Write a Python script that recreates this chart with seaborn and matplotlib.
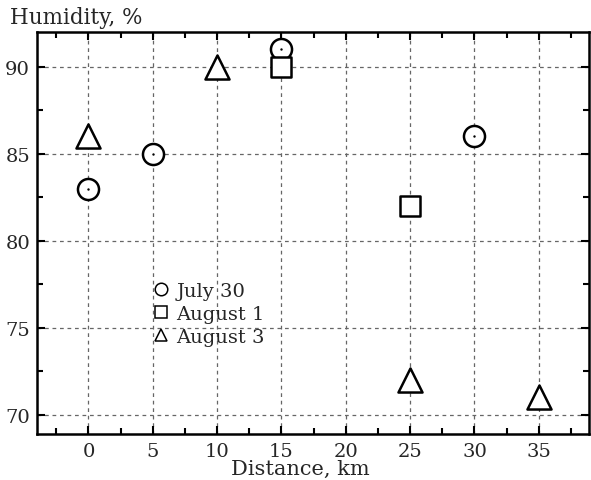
import matplotlib
matplotlib.use("Agg")
import matplotlib.pyplot as plt
import seaborn as sns
import pandas as pd
from matplotlib.ticker import MultipleLocator
from matplotlib.lines import Line2D

july30_x = [0, 5, 15, 30]
july30_y = [83, 85, 91, 86]
aug1_x = [15, 25]
aug1_y = [90, 82]
aug3_x = [0, 10, 25, 35]
aug3_y = [86, 90, 72, 71]
labels = ["July 30", "August 1", "August 3"]

sns.set_style("white")
plt.rcParams['font.family'] = ['DejaVu Serif']
plt.rcParams['mathtext.fontset'] = 'dejavuserif'

fig = plt.figure(figsize=(5.91, 4.81), dpi=100)
ax = fig.add_axes([0.0626, 0.0956, 0.934, 0.8358])

series = [
    (july30_x, july30_y, 'o', labels[0], 230),
    (aug1_x, aug1_y, 's', labels[1], 200),
    (aug3_x, aug3_y, '^', labels[2], 300),
]
for xs, ys, m, lab, s in series:
    df = pd.DataFrame({"Distance": xs, "Humidity": ys})
    sns.scatterplot(data=df, x="Distance", y="Humidity", marker=m, s=s,
                    facecolors='white', edgecolors='black', linewidths=1.8,
                    ax=ax, zorder=3, legend=False)
# center dots for circles
sns.scatterplot(x=july30_x, y=july30_y, marker='o', s=3, color='black',
                linewidth=0, ax=ax, zorder=4, legend=False)

ax.set_xlim(-4, 38.9)
ax.set_ylim(68.9, 92.0)
ax.set_xticks([0, 5, 10, 15, 20, 25, 30, 35])
ax.xaxis.set_minor_locator(MultipleLocator(2.5))
ax.yaxis.set_major_locator(MultipleLocator(5))
ax.yaxis.set_minor_locator(MultipleLocator(2.5))
ax.tick_params(which='both', direction='in', top=True, right=True,
               bottom=True, left=True, width=1.5, labelsize=14, color='black')
ax.tick_params(which='major', length=6, pad=5)
ax.tick_params(axis='x', which='major', pad=6)
ax.tick_params(which='minor', length=4)
ax.grid(True, which='major', linestyle=(0, (3, 3)), color='#666666', linewidth=0.9)
for sp in ax.spines.values():
    sp.set_linewidth(1.8)
    sp.set_color('black')

ax.set_xlabel("Distance, km", fontsize=15, va='center')
ax.xaxis.set_label_coords(0.478, -0.085, transform=ax.transAxes)
ax.set_ylabel("")
fig.text(0.017, 0.962, "Humidity, %", fontsize=15.5, ha='left', va='center')

handles = [Line2D([], [], marker=m, linestyle='none', markerfacecolor='none',
                  markeredgecolor='black', markersize=9, markeredgewidth=1.1)
           for m in ['o', 's', '^']]
leg = ax.legend(handles, labels, loc='upper left', bbox_to_anchor=(0.2, 0.398),
                frameon=False, fontsize=14, handlelength=0.6, handletextpad=0.5,
                labelspacing=0.25, borderaxespad=0)

fig.savefig("out.png", dpi=100)
